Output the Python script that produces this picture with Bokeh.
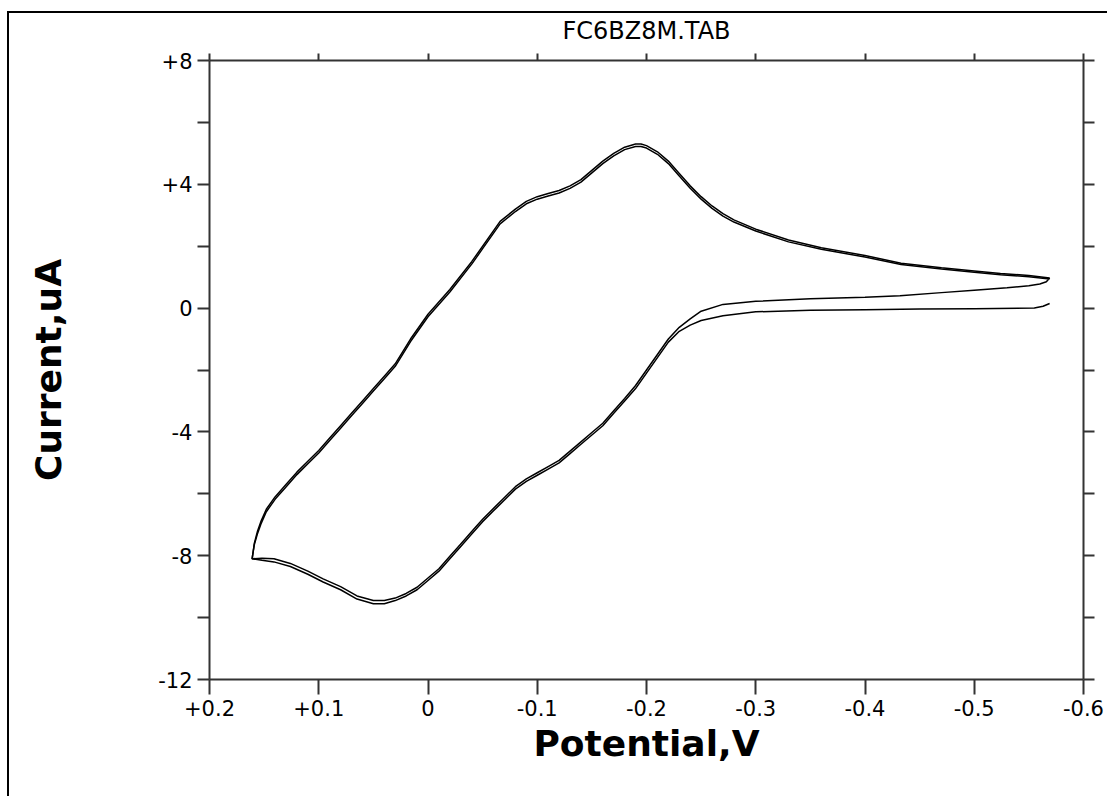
from bokeh.plotting import figure
from bokeh.models import Range1d, LinearAxis, FixedTicker, CustomLabelingPolicy
from bokeh.embed import file_html
from bokeh.resources import INLINE

# ---------------- data ----------------
title_text = "FC6BZ8M.TAB"
x_label = "Potential,V"
y_label = "Current,uA"

x_ticks = [0.2, 0.1, 0.0, -0.1, -0.2, -0.3, -0.4, -0.5, -0.6]
x_tick_labels = ["+0.2", "+0.1", "0", "-0.1", "-0.2", "-0.3", "-0.4", "-0.5", "-0.6"]
y_ticks = [-12, -8, -4, 0, 4, 8]
y_tick_labels = ["-12", "-8", "-4", "0", "+4", "+8"]
y_minor_ticks = [-10, -6, -2, 2, 6]

# cycle 1: start at switching potential, sweep along lower branch
c1_start_E = [-0.569, -0.563, -0.555, -0.50, -0.45, -0.40, -0.35]
c1_start_I = [0.15, 0.06, 0.0, -0.02, -0.03, -0.05, -0.07]
# cycle 2: lower branch after first reversal
c2_start_E = [-0.569, -0.566, -0.56, -0.55, -0.53, -0.50, -0.47, -0.432, -0.40, -0.35]
c2_start_I = [0.97, 0.85, 0.78, 0.72, 0.66, 0.58, 0.50, 0.40, 0.35, 0.30]

# lower (reduction) branch, shared potentials
low_E = [-0.30, -0.27, -0.25, -0.24, -0.23, -0.22, -0.21, -0.20, -0.19, -0.18,
         -0.17, -0.16, -0.15, -0.14, -0.13, -0.12, -0.11, -0.10, -0.09, -0.08,
         -0.07, -0.06, -0.05, -0.04, -0.03, -0.02, -0.01, 0.00, 0.01, 0.02,
         0.03, 0.04, 0.05, 0.065, 0.08, 0.096, 0.11, 0.126, 0.141, 0.152, 0.161]
c1_low_I = [-0.12, -0.25, -0.40, -0.55, -0.75, -1.10, -1.60, -2.10, -2.60, -3.00,
            -3.40, -3.80, -4.10, -4.40, -4.70, -5.00, -5.20, -5.40, -5.60, -5.85,
            -6.20, -6.55, -6.90, -7.30, -7.70, -8.10, -8.50, -8.80, -9.10, -9.30,
            -9.45, -9.55, -9.55, -9.40, -9.10, -8.85, -8.60, -8.35, -8.20, -8.15, -8.10]
c2_low_I = [0.22, 0.12, -0.10, -0.35, -0.62, -1.00, -1.50, -2.00, -2.50, -2.92,
            -3.32, -3.72, -4.02, -4.32, -4.62, -4.92, -5.12, -5.32, -5.52, -5.77,
            -6.12, -6.47, -6.82, -7.22, -7.62, -8.02, -8.42, -8.72, -9.02, -9.22,
            -9.37, -9.45, -9.45, -9.30, -9.00, -8.75, -8.50, -8.25, -8.10, -8.08, -8.10]

# upper (oxidation) branch, shared potentials
up_E = [0.161, 0.159, 0.156, 0.153, 0.148, 0.14, 0.13, 0.12, 0.11, 0.10,
        0.09, 0.08, 0.07, 0.06, 0.05, 0.04, 0.03, 0.016, 0.0, -0.02,
        -0.04, -0.05, -0.066, -0.08, -0.09, -0.10, -0.11, -0.12, -0.13, -0.14,
        -0.15, -0.16, -0.17, -0.18, -0.19, -0.195, -0.20, -0.21, -0.22, -0.23,
        -0.24, -0.25, -0.26, -0.27, -0.28, -0.30, -0.33, -0.36, -0.40, -0.433,
        -0.47, -0.50, -0.524, -0.55, -0.569]
c1_up_I = [-8.10, -7.60, -7.20, -6.90, -6.50, -6.10, -5.70, -5.30, -4.95, -4.60,
           -4.20, -3.80, -3.40, -3.00, -2.60, -2.20, -1.80, -1.00, -0.20, 0.60,
           1.50, 2.00, 2.80, 3.20, 3.45, 3.60, 3.70, 3.80, 3.95, 4.15,
           4.45, 4.75, 5.00, 5.20, 5.30, 5.30, 5.25, 5.05, 4.75, 4.35,
           3.95, 3.60, 3.30, 3.05, 2.85, 2.55, 2.20, 1.95, 1.70, 1.45,
           1.30, 1.20, 1.12, 1.05, 0.97]
c2_up_I = [-8.10, -7.65, -7.28, -6.98, -6.58, -6.18, -5.78, -5.38, -5.03, -4.68,
           -4.28, -3.88, -3.48, -3.08, -2.68, -2.28, -1.88, -1.08, -0.28, 0.52,
           1.42, 1.92, 2.72, 3.12, 3.37, 3.52, 3.62, 3.72, 3.87, 4.07,
           4.37, 4.67, 4.92, 5.12, 5.22, 5.22, 5.17, 4.97, 4.67, 4.27,
           3.87, 3.52, 3.22, 2.97, 2.78, 2.49, 2.14, 1.90, 1.65, 1.41,
           1.26, 1.16, 1.08, 1.01, 0.94]

# ---------------- figure ----------------
FONT = "DejaVu Sans"
AX = "#333333"

p = figure(width=1100, height=785,
           x_range=Range1d(0.2, -0.6), y_range=Range1d(-12, 8),
           output_backend="svg", toolbar_location=None,
           x_axis_location=None, y_axis_location=None,
           min_border_left=200, min_border_right=26,
           min_border_top=46, min_border_bottom=119,
           background_fill_color="white", border_fill_color="white",
           outline_line_color=None)
p.grid.visible = False
p.styles = {"border-left": "2px solid #000000", "border-top": "2px solid #000000"}
p.margin = (11, 0, 0, 7)

xt = FixedTicker(ticks=x_ticks)
yt = FixedTicker(ticks=y_ticks, minor_ticks=y_minor_ticks)
no_labels = CustomLabelingPolicy(code="return new Set()")


def style_axis(ax, tick_out, show_labels):
    ax.axis_line_color = AX
    ax.axis_line_width = 2
    ax.major_tick_line_color = AX
    ax.minor_tick_line_color = AX
    ax.major_tick_line_width = 2
    ax.minor_tick_line_width = 2
    ax.major_tick_in = 0
    ax.minor_tick_in = 0
    ax.major_tick_out = tick_out
    ax.minor_tick_out = tick_out
    ax.major_label_text_font = FONT
    ax.major_label_text_color = "black"
    if not show_labels:
        ax.major_label_policy = no_labels
        ax.major_label_text_font_size = "0px"
        ax.major_label_standoff = 0


bottom = LinearAxis(ticker=xt, axis_label=x_label)
bottom.major_label_overrides = dict(zip(x_ticks, x_tick_labels))
style_axis(bottom, 15, True)
bottom.major_label_text_font_size = "21px"
bottom.major_label_standoff = 5
bottom.axis_label_text_font = FONT
bottom.axis_label_text_font_style = "bold"
bottom.axis_label_text_font_size = "36px"
bottom.axis_label_text_color = "black"
bottom.axis_label_standoff = 4
p.add_layout(bottom, "below")

left = LinearAxis(ticker=yt, axis_label=y_label)
left.major_label_overrides = dict(zip(y_ticks, y_tick_labels))
style_axis(left, 12, True)
left.major_label_text_font_size = "21px"
left.major_label_standoff = 5
left.axis_label_text_font = FONT
left.axis_label_text_font_style = "bold"
left.axis_label_text_font_size = "36px"
left.axis_label_text_color = "black"
left.axis_label_standoff = 86
p.add_layout(left, "left")

# top axis carries the chart title as its label
top = LinearAxis(ticker=xt, axis_label=title_text)
style_axis(top, 7, False)
top.axis_label_text_font = FONT
top.axis_label_text_font_style = "normal"
top.axis_label_text_font_size = "24px"
top.axis_label_text_color = "black"
top.axis_label_standoff = 9
p.add_layout(top, "above")

right = LinearAxis(ticker=yt)
style_axis(right, 11, False)
p.add_layout(right, "right")

c1_E = c1_start_E + low_E + up_E
c1_I = c1_start_I + c1_low_I + c1_up_I
c2_E = c2_start_E + low_E + up_E
c2_I = c2_start_I + c2_low_I + c2_up_I

p.line(c1_E, c1_I, line_color="black", line_width=1.5)
p.line(c2_E, c2_I, line_color="black", line_width=1.5)

open("out.html", "w").write(file_html(p, INLINE))
